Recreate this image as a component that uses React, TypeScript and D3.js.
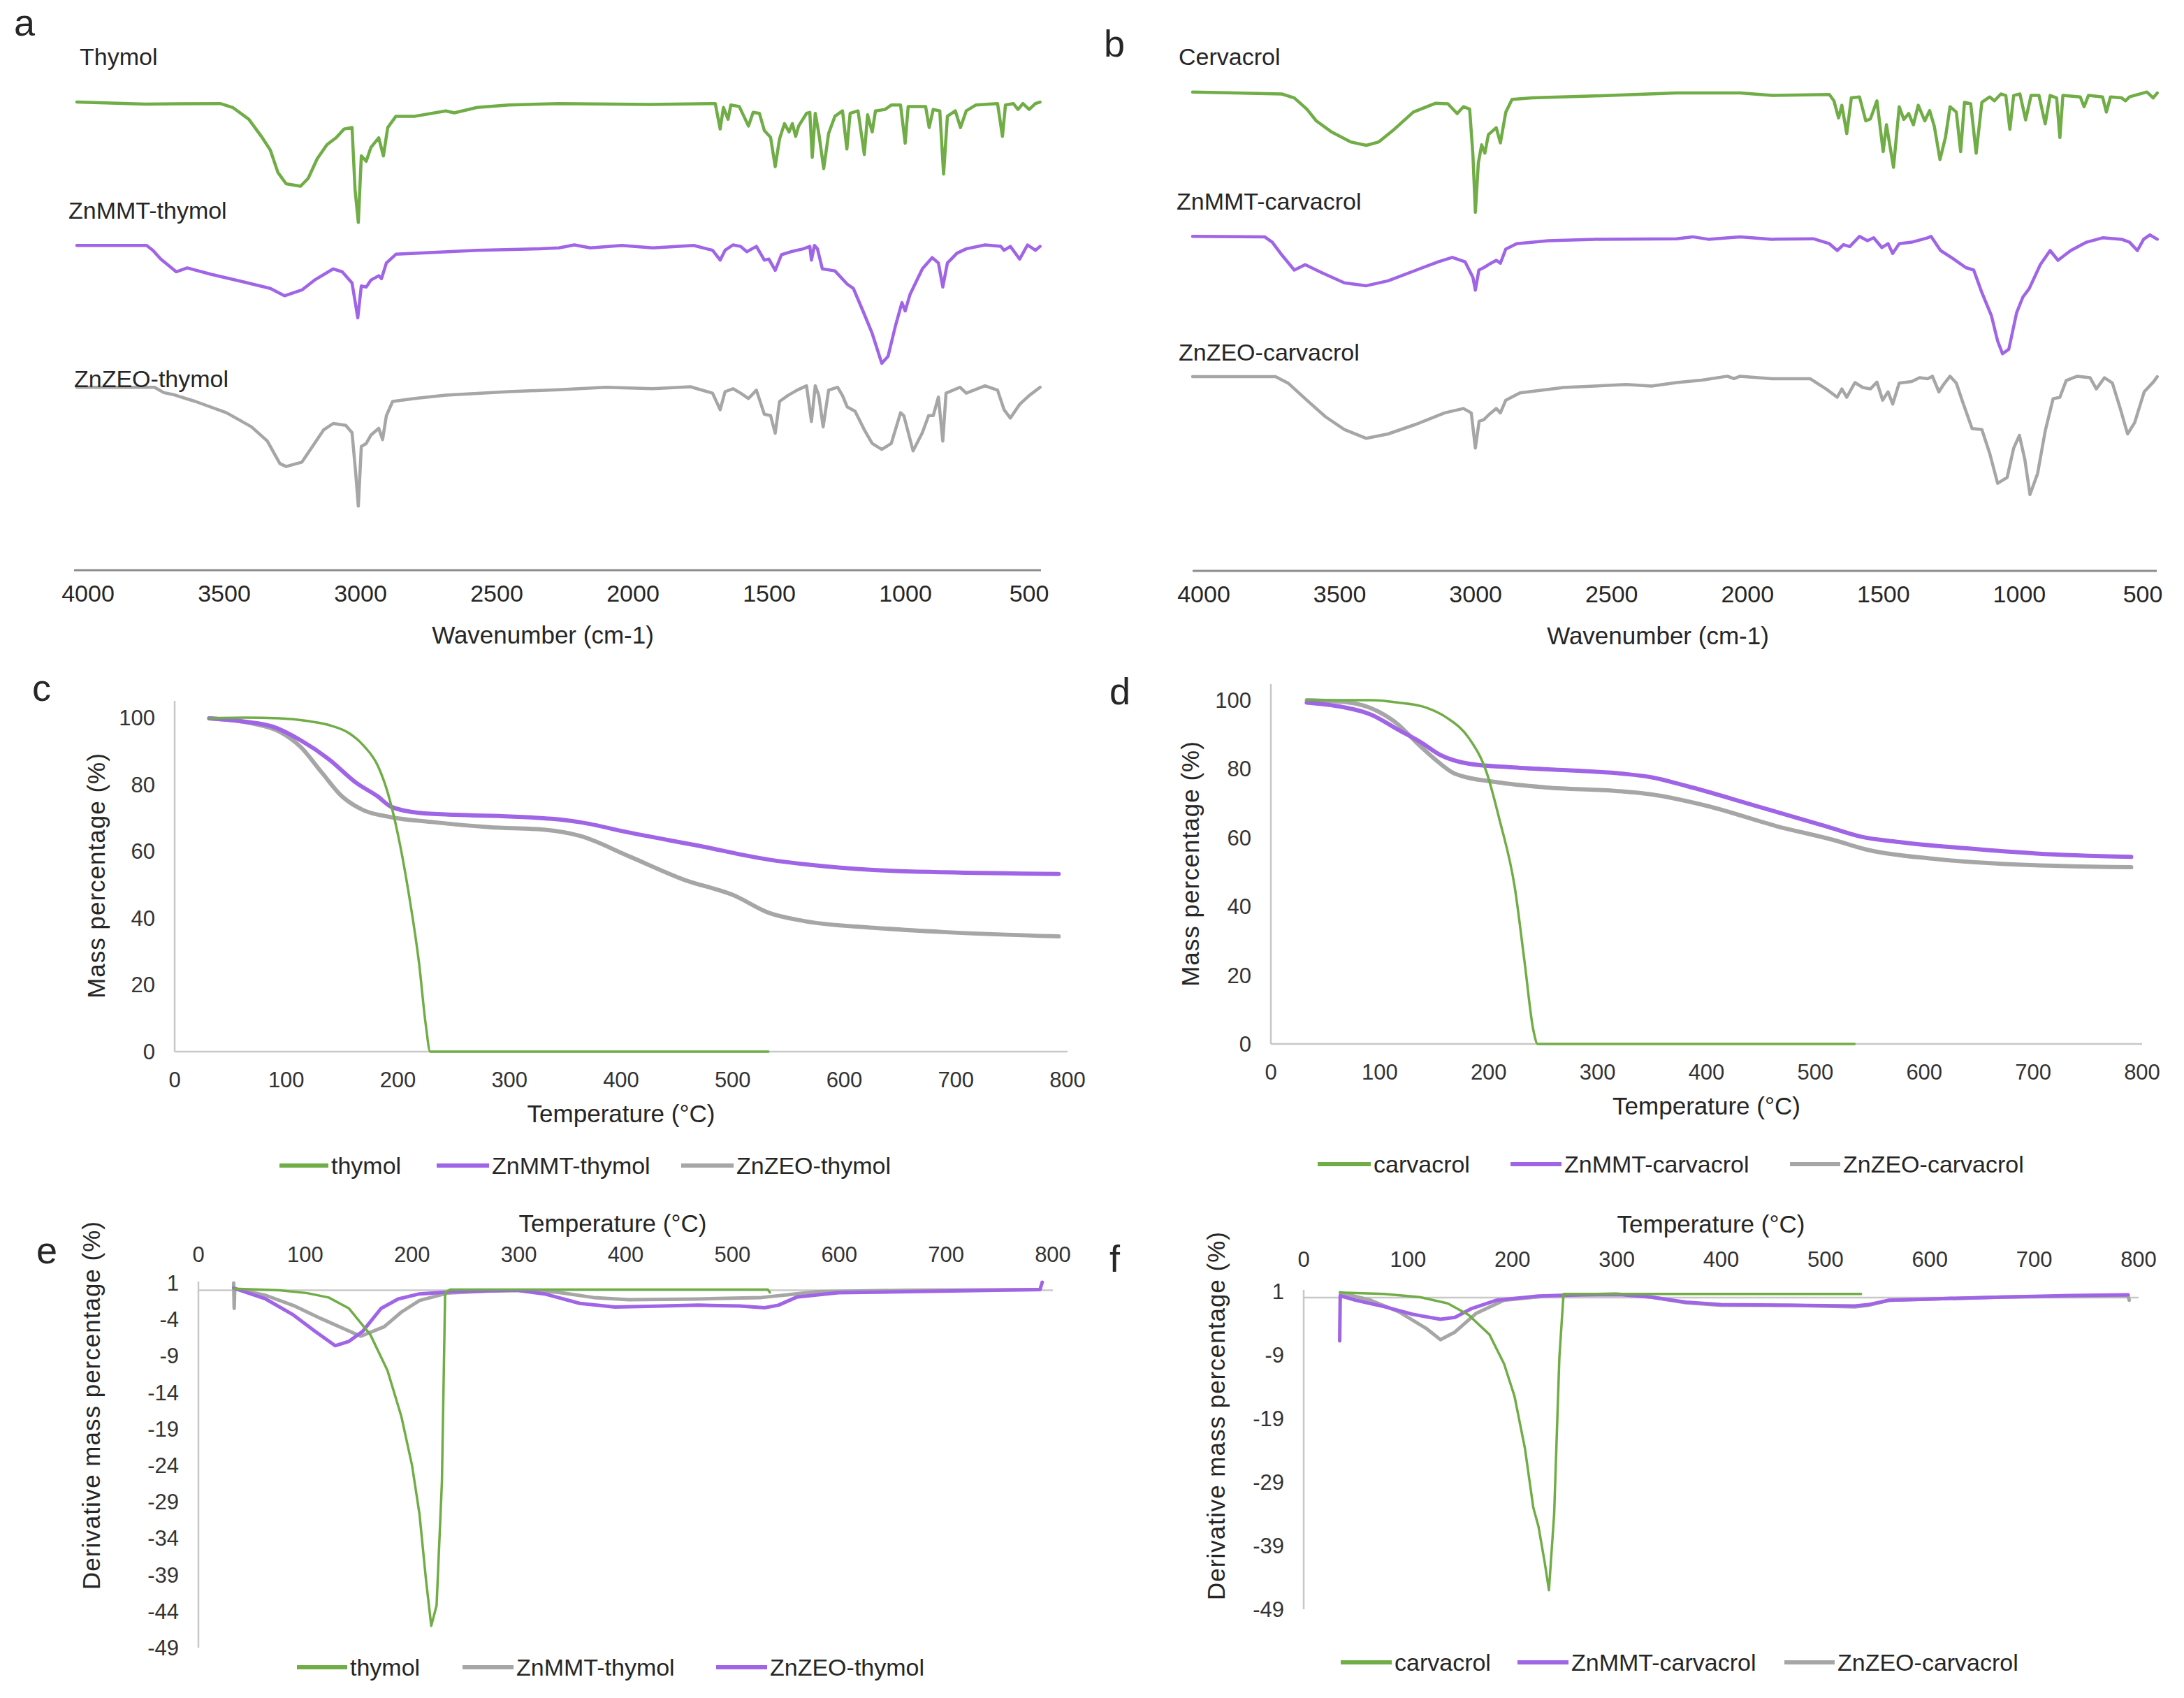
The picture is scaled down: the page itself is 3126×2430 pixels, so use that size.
import React, { useEffect, useRef } from "react";
import * as d3 from "d3";

type Pt = [number, number];

const GREEN = "#70ad47";
const PURPLE = "#a064e6";
const GRAY = "#a6a6a6";
const FONT = "'Liberation Sans', Arial, sans-serif";
const TEXT = "#262626";

// tick labels
const wavenumberTicks = [4000, 3500, 3000, 2500, 2000, 1500, 1000, 500];
const temperatureTicks = [0, 100, 200, 300, 400, 500, 600, 700, 800];
const massTicks = [0, 20, 40, 60, 80, 100];
const dtgTicksThymol = [1, -4, -9, -14, -19, -24, -29, -34, -39, -44, -49];
const dtgTicksCarvacrol = [1, -9, -19, -29, -39, -49];

// FTIR spectra: [wavenumber cm-1, transmittance a.u. (stacked)]
const ftirThymol: Pt[] = [
  [4000, 95.7], [3749, 95.3], [3474, 95.4], [3428, 94.6], [3369, 92.2], [3323, 88.7], [3290, 85.9], [3262, 81.3],
  [3232, 79.0], [3179, 78.5], [3151, 80.1], [3118, 84.1], [3082, 87.0], [3049, 88.4], [3019, 90.2], [2990, 90.5],
  [2979, 77.8], [2967, 71.1], [2956, 84.7], [2938, 83.6], [2921, 86.4], [2892, 88.4], [2875, 84.7], [2859, 90.5],
  [2829, 92.8], [2760, 92.8], [2646, 93.9], [2615, 93.5], [2531, 94.6], [2415, 95.1], [2231, 95.4], [1897, 95.2],
  [1657, 95.4], [1639, 90.2], [1627, 94.6], [1610, 92.2], [1600, 95.1], [1569, 94.8], [1535, 90.8], [1518, 93.6],
  [1495, 93.4], [1477, 89.9], [1454, 88.5], [1437, 82.5], [1421, 88.2], [1403, 91.3], [1386, 89.6], [1374, 91.3],
  [1362, 88.7], [1351, 90.8], [1322, 93.4], [1310, 93.6], [1301, 84.4], [1290, 93.4], [1277, 89.3], [1259, 82.1],
  [1241, 89.3], [1218, 92.8], [1190, 93.9], [1174, 86.1], [1162, 93.4], [1133, 93.9], [1110, 85.0], [1098, 93.1],
  [1081, 89.6], [1069, 93.9], [1034, 94.2], [1011, 95.1], [977, 95.1], [960, 87.3], [949, 94.8], [885, 94.8],
  [872, 90.5], [857, 94.2], [833, 93.9], [819, 81.0], [805, 92.8], [776, 93.9], [757, 90.5], [736, 93.9],
  [701, 95.1], [621, 95.4], [603, 88.7], [592, 95.1], [563, 95.4], [546, 94.2], [528, 95.4], [505, 94.2],
  [482, 95.4], [465, 95.7],
];
const ftirZnMMTThymol: Pt[] = [
  [4000, 66.4], [3744, 66.4], [3721, 65.4], [3692, 63.6], [3635, 61.0], [3595, 61.8], [3508, 60.5], [3393, 59.0],
  [3290, 57.6], [3238, 56.1], [3174, 57.3], [3128, 59.3], [3059, 61.6], [3026, 61.0], [2990, 58.7], [2969, 51.6],
  [2956, 58.1], [2938, 57.9], [2921, 59.3], [2892, 60.2], [2882, 59.6], [2864, 62.8], [2829, 64.6], [2760, 64.8],
  [2531, 65.4], [2300, 65.7], [2231, 65.9], [2174, 66.5], [2115, 65.9], [2000, 66.4], [1886, 65.9], [1736, 66.4],
  [1667, 65.4], [1639, 63.4], [1621, 65.4], [1592, 66.5], [1564, 66.2], [1541, 65.1], [1506, 66.2], [1477, 63.4],
  [1460, 63.6], [1437, 61.3], [1414, 64.5], [1380, 65.1], [1334, 65.7], [1310, 66.2], [1304, 63.4], [1293, 66.4],
  [1282, 65.7], [1264, 61.6], [1218, 61.2], [1173, 58.5], [1150, 57.6], [1115, 53.0], [1081, 48.4], [1046, 42.3],
  [1023, 43.7], [995, 50.1], [972, 54.7], [960, 53.0], [942, 56.4], [897, 61.6], [861, 63.9], [838, 62.8],
  [822, 57.9], [805, 62.8], [770, 64.8], [736, 65.7], [667, 66.5], [609, 66.2], [597, 65.4], [574, 66.2],
  [540, 63.6], [511, 66.5], [482, 65.4], [465, 66.2],
];
const ftirZnZEOThymol: Pt[] = [
  [4000, 37.4], [3715, 37.4], [3681, 36.3], [3646, 35.9], [3565, 34.5], [3451, 32.2], [3359, 29.3], [3301, 26.4],
  [3255, 21.8], [3232, 21.2], [3174, 22.1], [3128, 25.9], [3094, 28.7], [3059, 30.0], [3013, 29.6], [2990, 28.1],
  [2977, 20.1], [2967, 13.1], [2956, 25.3], [2938, 25.9], [2921, 27.6], [2892, 29.0], [2878, 26.7], [2864, 31.6],
  [2841, 34.5], [2760, 35.1], [2646, 35.8], [2415, 36.5], [2231, 36.9], [2059, 37.4], [1886, 37.1], [1748, 37.5],
  [1667, 36.2], [1639, 32.8], [1621, 36.5], [1592, 37.1], [1564, 36.2], [1535, 35.1], [1506, 36.8], [1477, 31.9],
  [1454, 31.6], [1437, 28.0], [1421, 34.5], [1391, 35.7], [1357, 36.8], [1322, 37.7], [1304, 30.4], [1290, 37.7],
  [1277, 35.7], [1261, 29.3], [1241, 36.8], [1208, 37.4], [1190, 35.7], [1173, 33.4], [1144, 32.5], [1110, 28.7],
  [1081, 25.9], [1046, 24.7], [1011, 25.9], [977, 32.2], [965, 31.6], [931, 24.4], [897, 28.1], [874, 31.6],
  [857, 31.6], [838, 35.4], [822, 26.4], [810, 36.2], [759, 37.4], [736, 36.2], [667, 37.7], [621, 36.8],
  [597, 32.8], [574, 31.1], [540, 33.9], [505, 35.7], [465, 37.4],
];
const ftirCarvacrol: Pt[] = [
  [4000, 97.9], [3672, 97.5], [3626, 96.7], [3580, 94.4], [3545, 92.0], [3488, 89.7], [3419, 87.7], [3361, 87.0],
  [3315, 87.7], [3258, 90.3], [3188, 93.8], [3107, 95.6], [3061, 95.5], [3027, 93.5], [3004, 94.9], [2981, 94.4],
  [2969, 85.1], [2960, 73.3], [2949, 83.4], [2937, 87.1], [2925, 85.4], [2912, 89.2], [2883, 90.6], [2868, 87.5],
  [2848, 93.8], [2825, 96.4], [2750, 96.7], [2520, 97.1], [2220, 97.7], [1986, 97.7], [1869, 97.2], [1658, 97.4],
  [1641, 96.1], [1624, 92.6], [1612, 95.2], [1594, 89.4], [1577, 96.7], [1547, 96.9], [1524, 92.0], [1507, 92.4],
  [1483, 96.1], [1460, 85.7], [1448, 91.2], [1422, 82.5], [1401, 94.9], [1384, 92.3], [1366, 93.5], [1349, 91.2],
  [1331, 95.2], [1307, 92.0], [1289, 94.1], [1272, 90.9], [1251, 84.1], [1231, 88.6], [1214, 94.9], [1191, 93.8],
  [1175, 85.7], [1161, 95.8], [1138, 95.5], [1118, 85.4], [1097, 95.8], [1068, 96.9], [1051, 96.1], [1027, 97.5],
  [1009, 97.2], [994, 90.3], [980, 97.2], [957, 97.5], [936, 92.2], [916, 97.2], [887, 97.2], [864, 91.4],
  [846, 97.2], [822, 96.7], [810, 88.6], [799, 97.2], [735, 96.9], [721, 94.9], [705, 97.2], [653, 96.9],
  [639, 93.8], [624, 96.9], [583, 96.7], [569, 96.1], [554, 96.9], [490, 97.9], [467, 96.7], [452, 97.7],
];
const ftirZnMMTCarvacrol: Pt[] = [
  [4000, 68.4], [3735, 68.3], [3707, 67.2], [3672, 64.6], [3626, 61.5], [3586, 62.6], [3522, 60.9], [3442, 58.9],
  [3361, 58.3], [3281, 59.3], [3177, 61.5], [3096, 63.2], [3045, 64.1], [2998, 63.2], [2969, 60.0], [2960, 57.4],
  [2947, 61.5], [2929, 62.0], [2912, 62.6], [2883, 63.5], [2868, 62.9], [2848, 65.8], [2808, 66.9], [2692, 67.5],
  [2520, 67.8], [2220, 67.9], [2161, 68.3], [2103, 67.8], [1986, 68.3], [1869, 67.8], [1717, 67.9], [1658, 66.9],
  [1629, 65.5], [1606, 66.7], [1583, 66.3], [1547, 68.4], [1518, 67.5], [1495, 68.1], [1465, 66.1], [1442, 66.9],
  [1425, 64.9], [1401, 66.9], [1355, 67.2], [1296, 68.1], [1284, 68.4], [1249, 65.5], [1202, 63.8], [1156, 62.0],
  [1127, 61.5], [1097, 56.9], [1062, 52.2], [1039, 47.0], [1021, 44.4], [998, 45.3], [969, 52.8], [946, 56.0],
  [923, 57.7], [882, 62.6], [846, 65.5], [817, 63.5], [770, 65.5], [712, 67.2], [653, 68.1], [583, 67.8],
  [554, 67.2], [525, 65.5], [502, 67.8], [479, 68.7], [452, 67.8],
];
const ftirZnZEOCarvacrol: Pt[] = [
  [4000, 39.7], [3695, 39.7], [3649, 38.4], [3580, 34.9], [3511, 31.5], [3442, 28.9], [3361, 27.1], [3281, 28.0],
  [3177, 30.0], [3073, 32.3], [3004, 33.2], [2975, 32.3], [2960, 25.1], [2946, 30.6], [2929, 30.9], [2909, 32.0],
  [2883, 33.2], [2868, 32.3], [2848, 34.9], [2796, 36.4], [2635, 37.5], [2405, 38.1], [2312, 37.8], [2220, 38.5],
  [2127, 39.0], [2033, 39.8], [2009, 39.3], [1986, 39.8], [1869, 39.3], [1729, 39.3], [1670, 37.2], [1629, 35.5],
  [1612, 37.2], [1594, 35.5], [1564, 38.5], [1535, 37.5], [1507, 37.2], [1483, 38.6], [1462, 34.9], [1442, 36.6],
  [1425, 34.1], [1401, 38.4], [1355, 38.7], [1326, 39.5], [1296, 39.3], [1279, 39.8], [1255, 36.6], [1238, 38.1],
  [1214, 39.8], [1191, 38.4], [1168, 34.6], [1133, 29.1], [1097, 28.9], [1068, 24.0], [1039, 17.9], [1004, 19.1],
  [980, 25.1], [959, 27.7], [939, 22.8], [920, 15.6], [892, 19.9], [864, 28.6], [835, 35.2], [810, 35.5],
  [787, 38.9], [746, 39.8], [699, 39.5], [676, 37.2], [646, 39.5], [617, 38.4], [588, 33.2], [561, 28.0],
  [535, 30.3], [500, 36.6], [465, 38.7], [452, 39.7],
];

// TGA: [temperature °C, mass %]
const tgaThymol: Pt[] = [
  [31, 99.8], [63, 100], [94, 99.8], [119, 99.0], [138, 97.8], [157, 95.2], [169, 91.7], [182, 85.6], [191, 77.4],
  [200, 65.1], [210, 46.8], [219, 26.4], [225, 8.0], [229, 0], [282, 0], [532, 0],
];
const tgaZnMMTThymol: Pt[] = [
  [31, 99.8], [63, 98.8], [88, 97.3], [113, 93.2], [138, 87.6], [163, 80.4], [182, 76.4], [194, 73.3], [219, 71.5],
  [251, 70.9], [301, 70.4], [338, 69.7], [363, 68.7], [407, 65.6], [470, 61.6], [532, 57.5], [570, 55.9],
  [626, 54.4], [689, 53.7], [792, 53.2],
];
const tgaZnZEOThymol: Pt[] = [
  [31, 99.8], [69, 98.3], [94, 95.8], [113, 91.2], [132, 83.5], [150, 76.4], [169, 72.3], [194, 70.2], [232, 68.7],
  [282, 67.2], [332, 66.4], [363, 64.6], [407, 58.5], [457, 51.4], [501, 46.8], [532, 41.6], [564, 39.1],
  [626, 37.1], [689, 35.8], [792, 34.5],
];
const tgaCarvacrol: Pt[] = [
  [33, 100], [92, 100], [117, 99.3], [143, 97.8], [162, 94.8], [182, 88.9], [198, 79.1], [210, 65.2], [224, 45.5],
  [233, 23.8], [241, 4.1], [245, 0], [536, 0],
];
const tgaZnMMTCarvacrol: Pt[] = [
  [33, 99.3], [66, 98.0], [92, 95.8], [117, 91.4], [137, 87.9], [156, 84.0], [182, 81.5], [220, 80.5], [272, 79.6],
  [323, 78.6], [349, 77.6], [381, 75.1], [446, 69.2], [510, 63.3], [542, 60.3], [575, 58.8], [639, 56.9],
  [703, 55.4], [790, 54.4],
];
const tgaZnZEOCarvacrol: Pt[] = [
  [33, 100], [72, 99.3], [98, 96.8], [117, 92.9], [133, 87.9], [150, 83.0], [169, 78.6], [208, 76.1], [253, 74.6],
  [317, 73.6], [349, 72.6], [401, 69.2], [465, 63.3], [517, 59.3], [549, 56.4], [607, 53.9], [671, 52.4],
  [790, 51.4],
];

// DTG: [temperature °C, derivative mass %]
const dtgThymol: Pt[] = [
  [33, 0.2], [76, 0], [102, -0.4], [122, -1.0], [141, -2.5], [161, -6.1], [177, -11.0], [190, -17.3], [200, -24.0],
  [207, -30.7], [213, -39.6], [218, -46.0], [223, -43.2], [228, -26.2], [231, -0.3], [236, 0.1], [272, 0.1],
  [533, 0.1], [535, -0.3],
];
const dtgZnMMTThymol: Pt[] = [
  [33, 1.0], [33.5, -2.5], [34, 0.2], [63, -0.7], [89, -2.1], [115, -3.9], [135, -5.2], [152, -6.3], [174, -5.0],
  [190, -3.0], [207, -1.4], [233, -0.4], [272, -0.1], [311, 0], [337, -0.3], [370, -1.0], [403, -1.3], [468, -1.2],
  [527, -1.0], [553, -0.6], [579, -0.2], [664, 0], [788, 0.1],
];
const dtgZnZEOThymol: Pt[] = [
  [33, 0.3], [63, -1.2], [89, -3.4], [109, -5.6], [128, -7.6], [141, -7.0], [154, -5.6], [171, -2.5], [187, -1.2],
  [207, -0.5], [239, -0.2], [298, 0], [324, -0.5], [357, -1.8], [390, -2.3], [435, -2.15], [468, -2.05],
  [507, -2.15], [530, -2.4], [543, -2.05], [560, -0.95], [599, -0.35], [664, -0.2], [788, 0.1], [790, 1.1],
];
const dtgCarvacrol: Pt[] = [
  [35, 0.8], [77, 0.6], [111, 0.1], [138, -0.9], [158, -2.7], [178, -5.8], [192, -10.4], [202, -15.5],
  [212, -23.7], [220, -33.0], [225, -36.0], [231, -41.7], [235, -46.0], [240, -34.0], [245, -9.4], [249, 0.6],
  [266, 0.6], [534, 0.6],
];
const dtgZnMMTCarvacrol: Pt[] = [
  [34.5, -6.8], [35, 0.3], [50, -0.4], [77, -1.4], [104, -2.6], [131, -3.4], [145, -3.1], [161, -1.7], [185, -0.4],
  [225, 0.25], [266, 0.45], [306, 0.45], [333, 0.1], [366, -0.7], [400, -1.1], [467, -1.2], [528, -1.3],
  [541, -1.1], [561, -0.4], [602, -0.2], [669, 0.1], [736, 0.35], [790, 0.45],
];
const dtgZnZEOCarvacrol: Pt[] = [
  [35, 0.8], [64, -0.4], [91, -2.2], [118, -4.9], [131, -6.6], [145, -5.4], [165, -2.5], [192, -0.4], [232, 0.25],
  [299, 0.6], [333, 0.1], [366, -0.8], [400, -1.2], [467, -1.2], [528, -1.45], [541, -1.2], [561, -0.4],
  [602, -0.2], [669, 0.1], [790, 0.35], [791, -0.4],
];

function addText(g: any, x: number, y: number, str: string, size: number, anchor = "start", color = TEXT) {
  return g
    .append("text")
    .attr("x", x)
    .attr("y", y)
    .attr("font-family", FONT)
    .attr("font-size", size)
    .attr("fill", color)
    .attr("text-anchor", anchor)
    .text(str);
}

function drawSeries(g: any, data: Pt[], x: any, y: any, color: string, width: number, smooth = false) {
  const line = d3
    .line<Pt>()
    .x((d) => x(d[0]))
    .y((d) => y(d[1]))
    .curve(smooth ? d3.curveMonotoneX : d3.curveLinear);
  g.append("path")
    .datum(data)
    .attr("d", line)
    .attr("fill", "none")
    .attr("stroke", color)
    .attr("stroke-width", width)
    .attr("stroke-linejoin", "round")
    .attr("stroke-linecap", "round");
}

function drawLegend(g: any, y: number, items: { color: string; x0: number; x1: number; label: string }[], width: number) {
  items.forEach((it) => {
    g.append("line")
      .attr("x1", it.x0)
      .attr("x2", it.x1)
      .attr("y1", y)
      .attr("y2", y)
      .attr("stroke", it.color)
      .attr("stroke-width", width);
    addText(g, it.x1 + 4, y + 12, it.label, 34);
  });
}

function ftirPanel(svg: any, o: any) {
  const g = svg.append("g");
  const x = d3.scaleLinear().domain([4000, 500]).range([o.xStart, o.x500]);
  const y = d3.scaleLinear().domain([0, 100]).range([o.axisY, o.axisY - 700]);
  g.append("line")
    .attr("x1", o.lineStart)
    .attr("x2", o.lineEnd)
    .attr("y1", o.axisY)
    .attr("y2", o.axisY)
    .attr("stroke", "#8c8c8c")
    .attr("stroke-width", 3);
  wavenumberTicks.forEach((t) => {
    addText(g, x(t) + (t === 500 ? -2 : 16), o.axisY + 45, String(t), 34, "middle");
  });
  addText(g, o.titleX, o.axisY + 105, "Wavenumber (cm-1)", 35, "middle");
  o.series.forEach((s: any) => {
    drawSeries(g, s.data, x, y, s.color, 4.5);
    addText(g, s.lx, s.ly, s.label, 34);
  });
  addText(g, o.letterX, o.letterY, o.letter, 54);
}

function tgaPanel(svg: any, o: any) {
  const g = svg.append("g");
  const x = d3.scaleLinear().domain([0, 800]).range([o.x0, o.x1]);
  const y = d3.scaleLinear().domain([0, 100]).range([o.y0, o.y100]);
  g.append("line").attr("x1", o.x0).attr("x2", o.x0).attr("y1", o.yTop).attr("y2", o.y0)
    .attr("stroke", "#c8c8c8").attr("stroke-width", 2.5);
  g.append("line").attr("x1", o.x0).attr("x2", o.x1).attr("y1", o.y0).attr("y2", o.y0)
    .attr("stroke", "#c8c8c8").attr("stroke-width", 2.5);
  massTicks.forEach((t) => addText(g, o.x0 - 28, y(t) + 11, String(t), 31, "end", "#333"));
  temperatureTicks.forEach((t) => addText(g, x(t), o.y0 + 51, String(t), 31, "middle", "#333"));
  addText(g, (o.x0 + o.x1) / 2, o.y0 + 101, "Temperature (°C)", 35, "middle");
  addText(g, 0, 0, "Mass percentage (%)", 35, "middle")
    .attr("transform", `translate(${o.yLabelX},${o.yLabelY}) rotate(-90)`)
    .attr("letter-spacing", 1);
  o.series.forEach((s: any) => drawSeries(g, s.data, x, y, s.color, s.width, true));
  drawLegend(g, o.legendY, o.legend, 6);
  addText(g, o.letterX, o.letterY, o.letter, 54);
}

function dtgPanel(svg: any, o: any) {
  const g = svg.append("g");
  const x = d3.scaleLinear().domain([0, 800]).range([o.x0, o.x1]);
  const y = d3.scaleLinear().domain([-49, 1]).range([o.yBottom, o.yOne]);
  g.append("line").attr("x1", o.x0).attr("x2", o.x0).attr("y1", o.yOne - 2).attr("y2", o.yBottom)
    .attr("stroke", "#c8c8c8").attr("stroke-width", 2.5);
  g.append("line").attr("x1", o.x0).attr("x2", o.x1).attr("y1", y(0)).attr("y2", y(0))
    .attr("stroke", "#c8c8c8").attr("stroke-width", 2.5);
  o.yTicks.forEach((t: number) => addText(g, o.x0 - 28, y(t) + 11, String(t), 31, "end", "#333"));
  temperatureTicks.forEach((t) => addText(g, x(t), o.topLabelY, String(t), 31, "middle", "#333"));
  addText(g, o.titleX, o.titleY, "Temperature (°C)", 35, "middle");
  addText(g, 0, 0, "Derivative mass percentage (%)", 35, "middle")
    .attr("transform", `translate(${o.yLabelX},${o.yLabelY}) rotate(-90)`)
    .attr("letter-spacing", 1);
  o.series.forEach((s: any) => drawSeries(g, s.data, x, y, s.color, s.width, false));
  drawLegend(g, o.legendY, o.legend, 6);
  addText(g, o.letterX, o.letterY, o.letter, 54);
}

const App: React.FC = () => {
  const svgRef = useRef<SVGSVGElement>(null);

  useEffect(() => {
    if (!svgRef.current) return;
    const svg = d3.select(svgRef.current);
    svg.selectAll("*").remove();
    svg.append("rect").attr("width", 3126).attr("height", 2430).attr("fill", "#fff");

    // a: FTIR thymol
    ftirPanel(svg, {
      xStart: 110, x500: 1475, lineStart: 106, lineEnd: 1490, axisY: 816, titleX: 777,
      letter: "a", letterX: 20, letterY: 51,
      series: [
        { data: ftirThymol, color: GREEN, label: "Thymol", lx: 114, ly: 93 },
        { data: ftirZnMMTThymol, color: PURPLE, label: "ZnMMT-thymol", lx: 98, ly: 313 },
        { data: ftirZnZEOThymol, color: GRAY, label: "ZnZEO-thymol", lx: 106, ly: 554 },
      ],
    });

    // b: FTIR carvacrol
    ftirPanel(svg, {
      xStart: 1707, x500: 3069, lineStart: 1707, lineEnd: 3087, axisY: 817, titleX: 2373,
      letter: "b", letterX: 1580, letterY: 81,
      series: [
        { data: ftirCarvacrol, color: GREEN, label: "Cervacrol", lx: 1687, ly: 93 },
        { data: ftirZnMMTCarvacrol, color: PURPLE, label: "ZnMMT-carvacrol", lx: 1684, ly: 300 },
        { data: ftirZnZEOCarvacrol, color: GRAY, label: "ZnZEO-carvacrol", lx: 1687, ly: 516 },
      ],
    });

    // c: TGA thymol
    tgaPanel(svg, {
      x0: 250, x1: 1528, y0: 1505, y100: 1027, yTop: 1003,
      yLabelX: 150, yLabelY: 1253, letter: "c", letterX: 46, letterY: 1003,
      series: [
        { data: tgaZnZEOThymol, color: GRAY, width: 6 },
        { data: tgaZnMMTThymol, color: PURPLE, width: 6 },
        { data: tgaThymol, color: GREEN, width: 3.5 },
      ],
      legendY: 1668,
      legend: [
        { color: GREEN, x0: 400, x1: 470, label: "thymol" },
        { color: PURPLE, x0: 625, x1: 700, label: "ZnMMT-thymol" },
        { color: GRAY, x0: 975, x1: 1050, label: "ZnZEO-thymol" },
      ],
    });

    // d: TGA carvacrol
    tgaPanel(svg, {
      x0: 1819, x1: 3066, y0: 1494, y100: 1002, yTop: 979,
      yLabelX: 1716, yLabelY: 1236, letter: "d", letterX: 1588, letterY: 1008,
      series: [
        { data: tgaZnZEOCarvacrol, color: GRAY, width: 6 },
        { data: tgaZnMMTCarvacrol, color: PURPLE, width: 6 },
        { data: tgaCarvacrol, color: GREEN, width: 3.5 },
      ],
      legendY: 1666,
      legend: [
        { color: GREEN, x0: 1886, x1: 1962, label: "carvacrol" },
        { color: PURPLE, x0: 2162, x1: 2235, label: "ZnMMT-carvacrol" },
        { color: GRAY, x0: 2562, x1: 2634, label: "ZnZEO-carvacrol" },
      ],
    });

    // e: DTG thymol
    dtgPanel(svg, {
      x0: 284, x1: 1507, yOne: 1836, yBottom: 2358, yTicks: dtgTicksThymol,
      topLabelY: 1806, titleX: 877, titleY: 1763, yLabelX: 143, yLabelY: 2011,
      letter: "e", letterX: 52, letterY: 1808,
      series: [
        { data: dtgZnMMTThymol, color: GRAY, width: 5 },
        { data: dtgZnZEOThymol, color: PURPLE, width: 5 },
        { data: dtgThymol, color: GREEN, width: 3.5 },
      ],
      legendY: 2386,
      legend: [
        { color: GREEN, x0: 425, x1: 497, label: "thymol" },
        { color: GRAY, x0: 662, x1: 735, label: "ZnMMT-thymol" },
        { color: PURPLE, x0: 1025, x1: 1098, label: "ZnZEO-thymol" },
      ],
    });

    // f: DTG carvacrol
    dtgPanel(svg, {
      x0: 1866, x1: 3061, yOne: 1848, yBottom: 2303, yTicks: dtgTicksCarvacrol,
      topLabelY: 1813, titleX: 2449, titleY: 1764, yLabelX: 1753, yLabelY: 2026,
      letter: "f", letterX: 1588, letterY: 1820,
      series: [
        { data: dtgZnZEOCarvacrol, color: GRAY, width: 5 },
        { data: dtgZnMMTCarvacrol, color: PURPLE, width: 5 },
        { data: dtgCarvacrol, color: GREEN, width: 3.5 },
      ],
      legendY: 2379,
      legend: [
        { color: GREEN, x0: 1919, x1: 1992, label: "carvacrol" },
        { color: PURPLE, x0: 2172, x1: 2245, label: "ZnMMT-carvacrol" },
        { color: GRAY, x0: 2554, x1: 2626, label: "ZnZEO-carvacrol" },
      ],
    });
  }, []);

  return (
    <svg
      ref={svgRef}
      width={3126}
      height={2430}
      style={{ position: "absolute", left: 0, top: 0, display: "block" }}
    />
  );
};

export default App;
